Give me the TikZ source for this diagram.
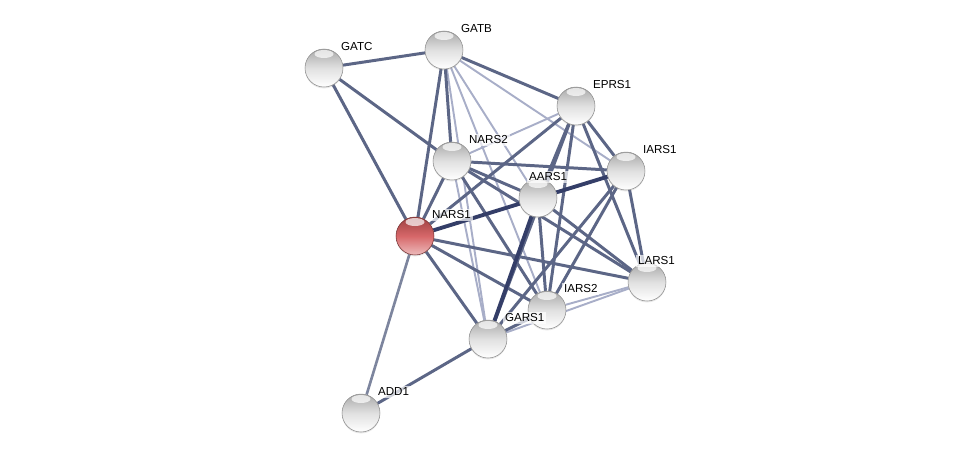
\documentclass[tikz,border=0pt]{standalone}
\usepackage{fontspec}
\setmainfont{Liberation Sans}
\usetikzlibrary{backgrounds,shadows}

\definecolor{edgemid}{RGB}{92,102,134}
\definecolor{edgedark}{RGB}{52,62,104}
\definecolor{edgelight}{RGB}{168,174,200}
\definecolor{ballred}{RGB}{210,86,88}

\begin{document}
\begin{tikzpicture}[
  x=0.02cm, y=-0.02cm,
  prot/.style={circle, minimum size=0.76cm, inner sep=0pt,
               draw=white!55!black, line width=0.3pt,
               top color=white!66!black, bottom color=white, middle color=white!88!black,
               drop shadow={opacity=0.2, shadow xshift=0pt, shadow yshift=-0.8pt},
               path picture={\fill[white, opacity=0.7]
                 ([yshift=-0.1cm]path picture bounding box.north) ellipse (0.19cm and 0.08cm);}},
  query/.style={prot, draw=ballred!55!black,
               top color=ballred!75!black, bottom color=ballred!40!white, middle color=ballred!90!white},
  lbl/.style={font=\fontsize{6.6}{7}\selectfont, inner sep=1pt, fill=white, fill opacity=0.7, text opacity=1},
  emid/.style={edgemid, line width=1.7pt},
  edark/.style={edgedark, line width=2.2pt},
  elight/.style={edgelight, line width=1.1pt},
]
  \useasboundingbox (0,0) rectangle (976,458);

  % proteins
  \node[prot]  (GATC)  at (324,68)  {};
  \node[prot]  (GATB)  at (444,50)  {};
  \node[prot]  (EPRS1) at (576,106) {};
  \node[prot]  (NARS2) at (452,161) {};
  \node[prot]  (IARS1) at (626,171) {};
  \node[prot]  (AARS1) at (538,198) {};
  \node[query] (NARS1) at (415,236) {};
  \node[prot]  (LARS1) at (647,282) {};
  \node[prot]  (IARS2) at (547,310) {};
  \node[prot]  (GARS1) at (488,339) {};
  \node[prot]  (ADD1)  at (361,413) {};

  % names
  \foreach \n in {GATC,GATB,EPRS1,NARS2,IARS1,NARS1,IARS2,GARS1,ADD1}
    \node[lbl, anchor=south west] (\n-l) at ([xshift=0.3cm,yshift=0.3cm]\n.center) {\n};
  \foreach \n in {AARS1,LARS1}
    \node[lbl, anchor=south west] (\n-l) at ([xshift=-0.22cm,yshift=0.3cm]\n.center) {\n};

  % interactions
  \begin{scope}[on background layer]
    \foreach \a/\b in {GATB/AARS1, GATB/IARS2, GATB/GARS1, GATB/IARS1,
                       NARS2/EPRS1, NARS2/GARS1, IARS2/LARS1, GARS1/LARS1}
      \draw[elight] (\a) -- (\b);
    \foreach \a/\b in {GATC/GATB, GATC/NARS1, GATC/NARS2, GATB/NARS1, GATB/NARS2,
                       GATB/EPRS1, NARS1/NARS2, NARS1/EPRS1, NARS1/LARS1,
                       NARS1/IARS2, NARS1/GARS1, NARS2/IARS1, NARS2/AARS1,
                       NARS2/LARS1, NARS2/IARS2, EPRS1/AARS1, EPRS1/IARS1,
                       EPRS1/LARS1, EPRS1/IARS2, EPRS1/GARS1, IARS1/LARS1,
                       IARS1/IARS2, IARS1/GARS1, AARS1/LARS1, AARS1/IARS2,
                       GARS1/IARS2, GARS1/ADD1}
      \draw[emid] (\a) -- (\b);
    \draw[emid, edgemid!80!white, line width=1.5pt] (NARS1) -- (ADD1);
    \foreach \a/\b in {NARS1/AARS1, AARS1/IARS1, AARS1/GARS1}
      \draw[edark] (\a) -- (\b);
  \end{scope}
\end{tikzpicture}
\end{document}
